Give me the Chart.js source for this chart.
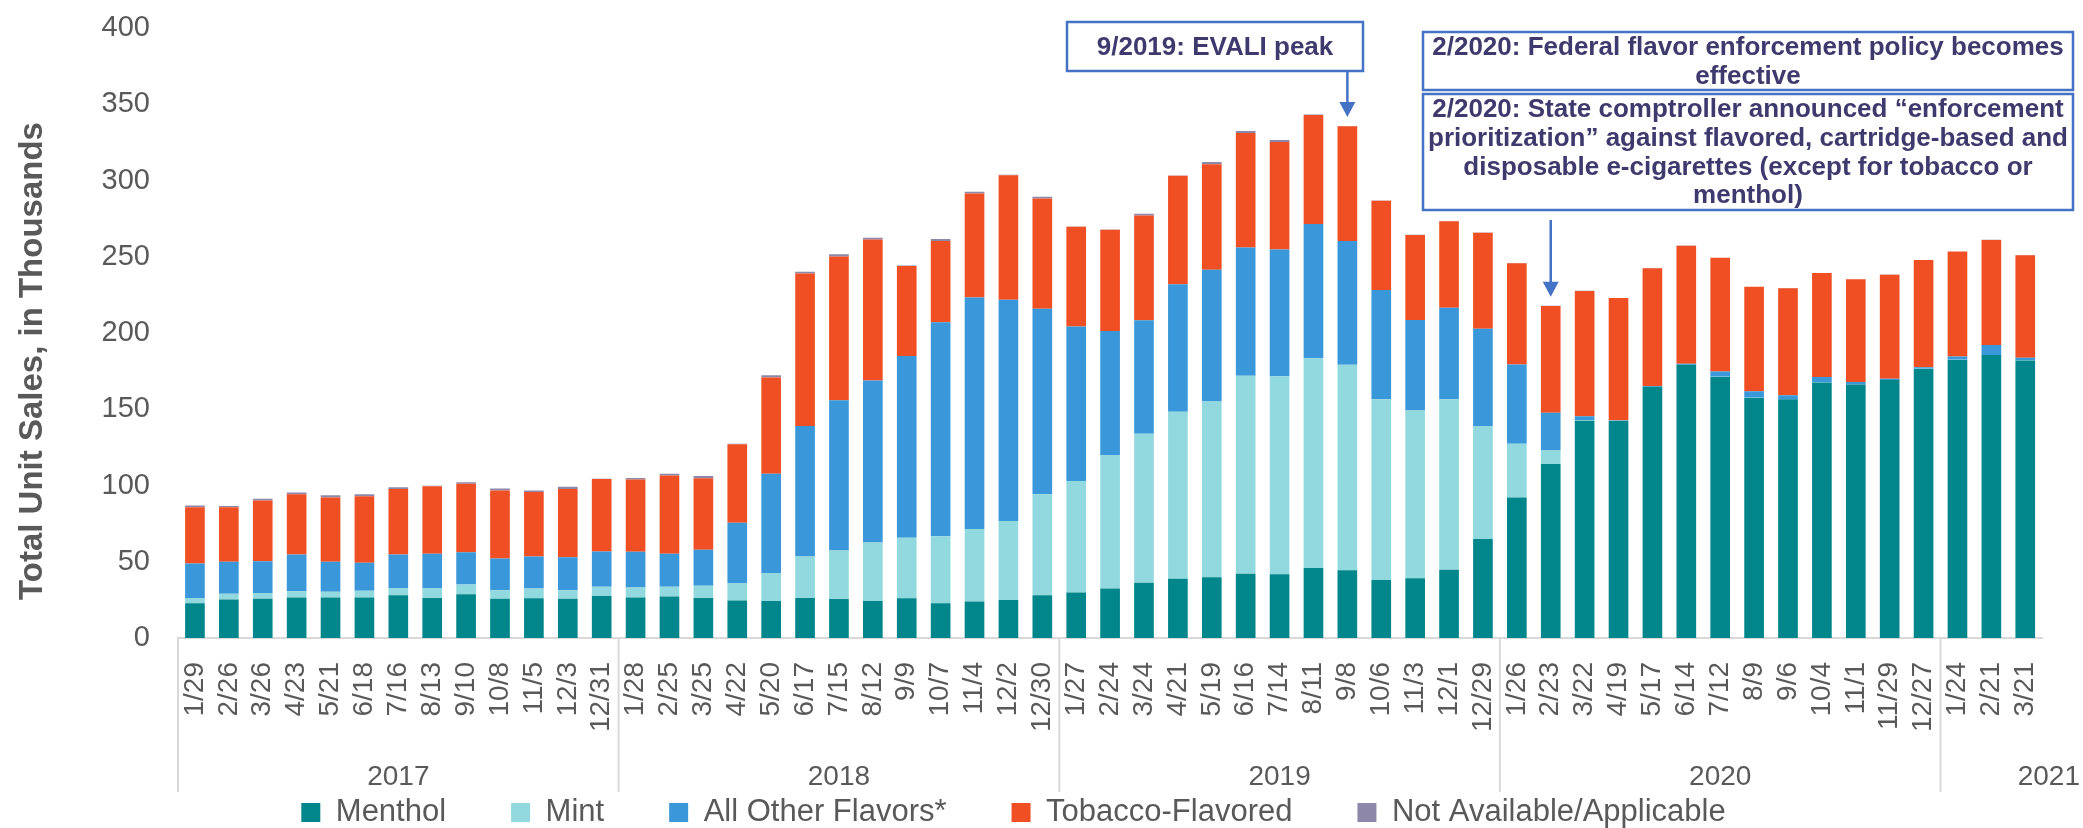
<!DOCTYPE html>
<html>
<head>
<meta charset="utf-8">
<title>Total Unit Sales by Flavor</title>
<script src="https://cdn.jsdelivr.net/npm/chart.js@4.4.0/dist/chart.umd.min.js"></script>
<style>
    html, body { margin: 0; padding: 0; background: #ffffff; }
</style>
</head>
<body>
<canvas id="salesChart" width="2083" height="828"></canvas>
<script>
// ============= dados (milhares de unidades) =============

const weeks = [
    '1/29', '2/26', '3/26', '4/23', '5/21', '6/18', '7/16', '8/13', '9/10', '10/8', '11/5', '12/3', '12/31',
    '1/28', '2/25', '3/25', '4/22', '5/20', '6/17', '7/15', '8/12', '9/9', '10/7', '11/4', '12/2', '12/30',
    '1/27', '2/24', '3/24', '4/21', '5/19', '6/16', '7/14', '8/11', '9/8', '10/6', '11/3', '12/1', '12/29',
    '1/26', '2/23', '3/22', '4/19', '5/17', '6/14', '7/12', '8/9', '9/6', '10/4', '11/1', '11/29', '12/27',
    '1/24', '2/21', '3/21'
]
const years = ['2017', '2018', '2019', '2020', '2021']
const weeksPerYear = [13, 13, 13, 13, 3]

const menthol = [
    22.8, 25.2, 25.7, 26.6, 26.6, 26.6, 28.1, 26.3, 28.7, 25.7, 26.0, 25.7, 27.5,
    26.6, 27.2, 26.3, 24.6, 24.3, 26.3, 25.5, 24.3, 26.0, 22.8, 24.0, 24.9, 28.1,
    29.8, 32.5, 36.3, 38.9, 39.8, 42.1, 41.8, 45.9, 44.5, 38.0, 39.2, 44.8, 65.0,
    92.2, 114.1, 142.5, 142.5, 164.7, 179.1, 171.2, 157.4, 156.5, 167.6, 166.2, 169.1, 176.4,
    182.3, 185.5, 182.0
]
const mint = [
    3.5, 3.8, 3.8, 4.1, 3.8, 4.4, 4.7, 6.5, 6.4, 5.6, 6.5, 5.6, 6.1,
    6.5, 6.4, 7.9, 11.4, 18.4, 27.2, 31.8, 38.3, 39.8, 43.9, 47.4, 51.8, 66.1,
    73.2, 87.5, 97.7, 109.4, 115.3, 129.9, 129.9, 137.5, 134.6, 118.5, 110.0, 111.7, 74.0,
    35.1, 8.8, 0.5, 0.1, 0.1, 0.1, 0.1, 0.1, 0.1, 0.1, 0.1, 0.1, 0.1,
    0.1, 0.1, 0.1
]
const otherFlavors = [
    22.6, 21.0, 20.8, 24.0, 19.6, 18.4, 21.9, 22.5, 21.1, 20.8, 21.0, 21.7, 23.2,
    23.4, 21.7, 23.7, 39.5, 65.0, 85.5, 98.6, 106.2, 119.1, 140.4, 151.8, 145.1, 121.7,
    101.2, 81.3, 74.3, 83.7, 86.3, 84.0, 83.1, 88.1, 81.3, 71.7, 59.4, 60.0, 63.8,
    52.0, 24.8, 2.4, 0.2, 0.5, 0.7, 3.4, 4.3, 2.6, 3.5, 1.6, 0.8, 1.1,
    2.2, 6.6, 1.6
]
const tobacco = [
    36.8, 35.7, 39.8, 39.5, 42.2, 43.6, 43.0, 44.2, 45.0, 44.7, 42.2, 44.7, 47.4,
    47.4, 51.2, 46.8, 51.5, 63.2, 100.0, 94.2, 92.5, 59.1, 53.3, 68.2, 81.6, 72.3,
    65.5, 66.4, 68.8, 71.1, 69.3, 75.2, 70.5, 71.4, 75.2, 58.5, 55.6, 56.8, 62.9,
    66.5, 70.0, 82.2, 80.1, 77.2, 77.3, 74.6, 68.5, 70.2, 68.1, 67.3, 68.2, 70.2,
    68.8, 68.8, 67.3
]
const notAvailable = [
    1.2, 0.9, 1.2, 1.2, 1.4, 1.2, 1.2, 0.3, 0.9, 1.2, 1.1, 1.5, 0.2,
    1.1, 1.2, 1.5, 0.3, 1.4, 1.2, 1.5, 1.1, 0.3, 1.2, 1.2, 0.3, 1.2,
    0.2, 0.2, 1.1, 0.2, 1.5, 1.2, 1.2, 0.3, 0.2, 0.2, 0.2, 0.2, 0.2,
    0.1, 0.1, 0.1, 0.1, 0.1, 0.1, 0.1, 0.1, 0.1, 0.1, 0.1, 0.1, 0.1,
    0.1, 0.1, 0.1
]
const yTicks = [0, 50, 100, 150, 200, 250, 300, 350, 400]

// notas (índice da semana para onde a seta aponta)
const notes = [
    { lines: ['9/2019: EVALI peak'], box: [1067, 22, 1363, 71], arrowFrom: 71, week: 34 },
    { lines: ['2/2020: Federal flavor enforcement policy becomes', 'effective'], box: [1423, 32, 2073, 90] },
    {
        lines: ['2/2020: State comptroller announced \u201cenforcement',
            'prioritization\u201d against flavored, cartridge-based and',
            'disposable e-cigarettes (except for tobacco or',
            'menthol)'],
        box: [1423, 94, 2073, 210], arrowFrom: 220, week: 40
    }
]

const FONT = "'Liberation Sans', Arial, sans-serif"
const GREY = '#595959'
const AXIS_LINE = '#d9d9d9'

// ============= plugins =============

const yearAxis = {
    id: 'yearAxis',
    afterLayout(chart) {
        // legenda do Excel fica um pouco à esquerda do centro
        chart.legend.left -= 20
        chart.legend.right -= 20
    },
    afterDraw(chart) {
        const ctx = chart.ctx
        const x = chart.scales.x
        const area = chart.chartArea
        const lineBottom = 792
        ctx.save()
        ctx.strokeStyle = AXIS_LINE
        ctx.lineWidth = 2
        ctx.fillStyle = GREY
        ctx.font = '28px ' + FONT
        ctx.textBaseline = 'middle'
        let start = 0
        years.forEach((yr, i) => {
            const end = start + weeksPerYear[i]
            const left = start === 0 ? area.left : (x.getPixelForValue(start - 1) + x.getPixelForValue(start)) / 2
            const right = end >= weeks.length ? area.right : (x.getPixelForValue(end - 1) + x.getPixelForValue(end)) / 2
            ctx.beginPath()
            ctx.moveTo(left, area.bottom)
            ctx.lineTo(left, lineBottom)
            ctx.stroke()
            if (end >= weeks.length) {
                ctx.textAlign = 'right'
                ctx.fillText(yr, chart.width - 3, 777)
            } else {
                ctx.textAlign = 'center'
                ctx.fillText(yr, (left + right) / 2, 777)
            }
            start = end
        })

        // título do eixo y
        ctx.save()
        ctx.translate(33, 361)
        ctx.rotate(-Math.PI / 2)
        ctx.textAlign = 'center'
        ctx.font = 'bold 33px ' + FONT
        ctx.fillText('Total Unit Sales, in Thousands', 0, 0)
        ctx.restore()
        ctx.restore()
    }
}

const noteBoxes = {
    id: 'noteBoxes',
    afterDraw(chart) {
        const ctx = chart.ctx
        const x = chart.scales.x
        const y = chart.scales.y
        ctx.save()
        notes.forEach(n => {
            const [l, t, r, b] = n.box
            ctx.fillStyle = '#ffffff'
            ctx.fillRect(l, t, r - l, b - t)
            ctx.strokeStyle = '#4472c4'
            ctx.lineWidth = 2.5
            ctx.strokeRect(l, t, r - l, b - t)

            ctx.fillStyle = '#3f3a6e'
            ctx.font = 'bold 26px ' + FONT
            ctx.textAlign = 'center'
            ctx.textBaseline = 'middle'
            const lh = 28.7
            const mid = (t + b) / 2
            n.lines.forEach((line, i) => {
                ctx.fillText(line, (l + r) / 2, mid + (i - (n.lines.length - 1) / 2) * lh + 1)
            })

            if (n.week !== undefined) {
                const total = menthol[n.week] + mint[n.week] + otherFlavors[n.week] + tobacco[n.week] + notAvailable[n.week]
                const ax = x.getPixelForValue(n.week)
                const tip = y.getPixelForValue(total) - 9
                ctx.strokeStyle = '#4472c4'
                ctx.fillStyle = '#4472c4'
                ctx.lineWidth = 2.5
                ctx.beginPath()
                ctx.moveTo(ax, n.arrowFrom)
                ctx.lineTo(ax, tip - 12)
                ctx.stroke()
                ctx.beginPath()
                ctx.moveTo(ax - 8, tip - 15)
                ctx.lineTo(ax + 8, tip - 15)
                ctx.lineTo(ax, tip)
                ctx.closePath()
                ctx.fill()
            }
        })
        ctx.restore()
    }
}

// ============= gráfico =============

function serie(label, data, color) {
    return {
        label: label,
        data: data,
        backgroundColor: color,
        borderWidth: 0,
        barPercentage: 0.58,
        categoryPercentage: 1.0
    }
}

document.addEventListener('DOMContentLoaded', function () {
    const ctx = document.getElementById('salesChart').getContext('2d')
    Chart.defaults.font.family = FONT

    new Chart(ctx, {
        type: 'bar',
        data: {
            labels: weeks,
            datasets: [
                serie('Menthol', menthol, '#00868b'),
                serie('Mint', mint, '#91d9de'),
                serie('All Other Flavors*', otherFlavors, '#3a97d9'),
                serie('Tobacco-Flavored', tobacco, '#f04f24'),
                serie('Not Available/Applicable', notAvailable, '#8d88a9')
            ]
        },
        options: {
            responsive: false,
            animation: false,
            devicePixelRatio: 1,
            layout: {
                padding: { top: 28, left: 0, right: 16, bottom: 0 }
            },
            plugins: {
                legend: {
                    position: 'bottom',
                    maxHeight: 96,
                    labels: {
                        color: GREY,
                        font: { size: 31, family: FONT },
                        boxWidth: 19,
                        boxHeight: 19,
                        padding: 65
                    }
                },
                tooltip: { enabled: false },
                title: { display: false }
            },
            scales: {
                x: {
                    stacked: true,
                    grid: { display: false, drawTicks: false },
                    border: { display: true, color: AXIS_LINE, width: 2 },
                    ticks: {
                        color: GREY,
                        font: { size: 28, family: FONT },
                        maxRotation: 90,
                        minRotation: 90,
                        autoSkip: false,
                        padding: 24
                    },
                    afterFit(scale) {
                        scale.height = 94
                    }
                },
                y: {
                    stacked: true,
                    min: 0,
                    max: 400,
                    // marca invisível de 28px afasta os rótulos sem empurrar o topo
                    grid: { display: false, drawTicks: true, tickLength: 28 },
                    border: { display: false },
                    afterBuildTicks(scale) {
                        scale.ticks = yTicks.map(v => ({ value: v }))
                    },
                    ticks: {
                        color: GREY,
                        font: { size: 29, family: FONT },
                        padding: 0
                    },
                    afterFit(scale) {
                        scale.width = 178
                    }
                }
            }
        },
        plugins: [yearAxis, noteBoxes]
    })
})
</script>
</body>
</html>
